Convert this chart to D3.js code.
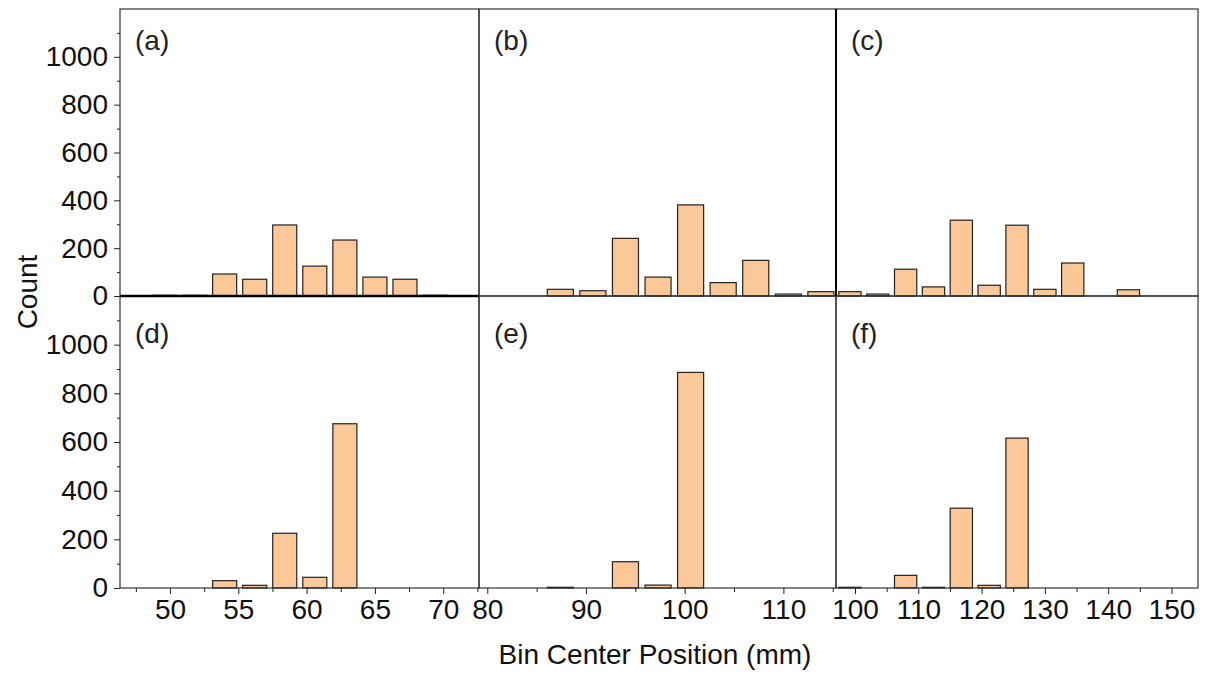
<!DOCTYPE html>
<html>
<head>
<meta charset="utf-8">
<script src="https://cdn.jsdelivr.net/npm/d3@7"></script>
<style>
  body { margin: 0; background: #fff; }
  svg { display: block; font-family: "Liberation Sans", Arial, sans-serif; }
</style>
</head>
<body>
<div id="root"></div>
<script>
// bin centres (mm) and counts
const binsLeft = [49.6, 51.8, 54.0, 56.2, 58.4, 60.6, 62.8, 65.0, 67.2, 69.4];
const countsA = [3, 3, 92, 70, 297, 125, 234, 79, 70, 3];
const countsD = [0, 0, 30, 11, 225, 44, 675, 0, 0, 0];

const binsMid = [87.4, 90.7, 94.0, 97.3, 100.6, 103.9, 107.2, 110.5, 113.8];
const countsB = [28, 22, 241, 79, 381, 56, 149, 8, 18];
const countsE = [3, 0, 108, 12, 886, 0, 0, 0, 0];

const binsRight = [99.2, 103.6, 108.0, 112.4, 116.8, 121.2, 125.6, 130.0, 134.4, 138.8, 143.2];
const countsC = [18, 8, 112, 38, 317, 45, 296, 28, 138, 0, 26];
const countsF = [3, 0, 52, 3, 328, 11, 616, 0, 0, 0, 0];

const panelLabels = ["(a)", "(b)", "(c)", "(d)", "(e)", "(f)"];
const yTicks = [0, 200, 400, 600, 800, 1000];
const yMinor = [100, 300, 500, 700, 900, 1100];
const xTicksLeft = [50, 55, 60, 65, 70];
const xMinorLeft = [47.5, 52.5, 57.5, 62.5, 67.5, 72.5];
const xTicksMid = [80, 90, 100, 110];
const xMinorMid = [85, 95, 105, 115];
const xTicksRight = [100, 110, 120, 130, 140, 150];
const xMinorRight = [105, 115, 125, 135, 145];

const width = 1211;
const height = 677;

const svg = d3
  .select("#root")
  .append("svg")
  .attr("width", width)
  .attr("height", height);

// column layout: pixel range and data domain of each column
const columns = [
  { x0: 120, x1: 479, domain: [46.34, 72.62], bins: binsLeft, binWidth: 2.2, ticks: xTicksLeft, minor: xMinorLeft },
  { x0: 479, x1: 836, domain: [79.16, 115.33], bins: binsMid, binWidth: 3.3, ticks: xTicksMid, minor: xMinorMid },
  { x0: 836, x1: 1198, domain: [97.0, 154.19], bins: binsRight, binWidth: 4.4, ticks: xTicksRight, minor: xMinorRight },
];
const rows = [
  { y0: 9, y1: 296, counts: [countsA, countsB, countsC] },
  { y0: 296, y1: 588, counts: [countsD, countsE, countsF] },
];

rows.forEach((row, ri) => {
  const y = d3.scaleLinear().domain([0, 1200]).range([row.y1, row.y0]);

  columns.forEach((col, ci) => {
    const x = d3.scaleLinear().domain(col.domain).range([col.x0, col.x1]);
    const counts = row.counts[ci];
    const g = svg.append("g");

    // bars
    const barW = x(col.binWidth * 0.8) - x(0);
    g.selectAll("rect.bar")
      .data(col.bins.map((b, i) => ({ b, c: counts[i] })).filter((d) => d.c > 0))
      .join("rect")
      .attr("class", "bar")
      .attr("x", (d) => x(d.b) - barW / 2)
      .attr("y", (d) => y(d.c))
      .attr("width", barW)
      .attr("height", (d) => y(0) - y(d.c))
      .attr("fill", "#fdc898")
      .attr("stroke", "#222")
      .attr("stroke-width", 1.2);

    // frame
    g.append("rect")
      .attr("x", col.x0)
      .attr("y", row.y0)
      .attr("width", col.x1 - col.x0)
      .attr("height", row.y1 - row.y0)
      .attr("fill", "none")
      .attr("stroke", "#333")
      .attr("stroke-width", 1.2);

    // bottom axis only on the lower row
    if (ri === 1) {
      const xAxis = g.append("g")
        .attr("transform", `translate(0,${row.y1})`)
        .call(d3.axisBottom(x).tickValues(col.ticks).tickSize(6).tickPadding(5).tickFormat(d3.format("d")));
      xAxis.select(".domain").remove();
      xAxis.selectAll("text").attr("font-size", 28).attr("fill", "#111").attr("font-family", null);
      xAxis.selectAll("line").attr("stroke", "#222");

      const xMinorAxis = g.append("g")
        .attr("transform", `translate(0,${row.y1})`)
        .call(d3.axisBottom(x).tickValues(col.minor).tickSize(4).tickFormat(""));
      xMinorAxis.select(".domain").remove();
      xMinorAxis.selectAll("line").attr("stroke", "#222");
    }

    // left axis only on first column
    if (ci === 0) {
      const yAxis = g.append("g")
        .attr("transform", `translate(${col.x0},0)`)
        .call(d3.axisLeft(y).tickValues(yTicks).tickSize(6).tickPadding(6).tickFormat(d3.format("d")));
      yAxis.select(".domain").remove();
      yAxis.selectAll("text").attr("font-size", 28).attr("fill", "#111").attr("font-family", null);
      yAxis.selectAll("line").attr("stroke", "#222");

      const yMinorAxis = g.append("g")
        .attr("transform", `translate(${col.x0},0)`)
        .call(d3.axisLeft(y).tickValues(yMinor).tickSize(3).tickFormat(""));
      yMinorAxis.select(".domain").remove();
      yMinorAxis.selectAll("line").attr("stroke", "#222");
    }

    // panel label
    g.append("text")
      .attr("x", col.x0 + 15)
      .attr("y", row.y0 + (ri === 0 ? 41 : 47))
      .attr("font-size", 28)
      .attr("fill", "#222")
      .text(panelLabels[ri * 3 + ci]);
  });
});

// heavier lines seen in the figure
svg.append("line")
  .attr("x1", 120).attr("x2", 479).attr("y1", 296).attr("y2", 296)
  .attr("stroke", "#000").attr("stroke-width", 2.5);
svg.append("line")
  .attr("x1", 836).attr("x2", 836).attr("y1", 9).attr("y2", 296)
  .attr("stroke", "#000").attr("stroke-width", 2);

// axis titles
svg.append("text")
  .attr("x", 655)
  .attr("y", 664)
  .attr("text-anchor", "middle")
  .attr("font-size", 28)
  .attr("fill", "#111")
  .text("Bin Center Position (mm)");

svg.append("text")
  .attr("transform", "translate(37,292) rotate(-90)")
  .attr("text-anchor", "middle")
  .attr("font-size", 28)
  .attr("fill", "#111")
  .text("Count");
</script>
</body>
</html>
